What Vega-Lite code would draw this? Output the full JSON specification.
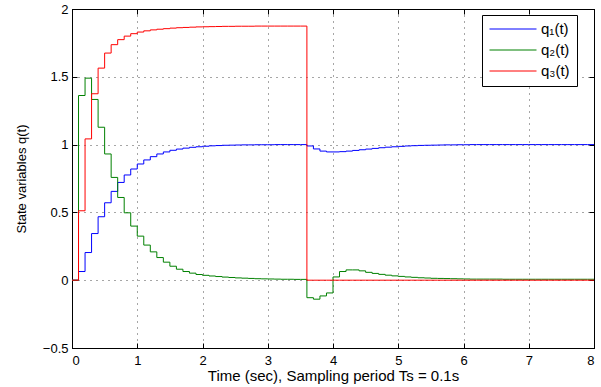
{
  "$schema": "https://vega.github.io/schema/vega-lite/v6.json",
  "width": 522,
  "height": 339,
  "autosize": {"type": "none"},
  "padding": {"left": 72, "top": 9, "right": 7, "bottom": 39},
  "background": "white",
  "config": {
    "font": "Liberation Sans",
    "view": {"stroke": "black", "strokeWidth": 1},
    "axis": {
      "domainColor": "black",
      "tickColor": "black",
      "labelColor": "black",
      "titleColor": "black",
      "labelFont": "Liberation Sans",
      "titleFont": "Liberation Sans",
      "titleFontWeight": "normal",
      "labelFontSize": 13,
      "gridColor": "black",
      "gridOpacity": 0.7,
      "gridDash": [1, 5],
      "gridWidth": 1,
      "tickSize": -5
    }
  },
  "data": {
    "values": [
      {"t": 0.0, "q1": 0, "q2": 0, "q3": 0},
      {"t": 0.1, "q1": 0.064, "q2": 1.362, "q3": 0.512},
      {"t": 0.2, "q1": 0.204, "q2": 1.49, "q3": 1.042},
      {"t": 0.3, "q1": 0.344, "q2": 1.333, "q3": 1.375},
      {"t": 0.4, "q1": 0.468, "q2": 1.128, "q3": 1.564},
      {"t": 0.5, "q1": 0.571, "q2": 0.931, "q3": 1.675},
      {"t": 0.6, "q1": 0.655, "q2": 0.758, "q3": 1.737},
      {"t": 0.7, "q1": 0.721, "q2": 0.61, "q3": 1.774},
      {"t": 0.8, "q1": 0.776, "q2": 0.497, "q3": 1.8},
      {"t": 0.9, "q1": 0.82, "q2": 0.399, "q3": 1.818},
      {"t": 1.0, "q1": 0.857, "q2": 0.325, "q3": 1.83},
      {"t": 1.1, "q1": 0.887, "q2": 0.259, "q3": 1.839},
      {"t": 1.2, "q1": 0.911, "q2": 0.209, "q3": 1.846},
      {"t": 1.3, "q1": 0.931, "q2": 0.167, "q3": 1.851},
      {"t": 1.4, "q1": 0.946, "q2": 0.133, "q3": 1.855},
      {"t": 1.5, "q1": 0.958, "q2": 0.103, "q3": 1.859},
      {"t": 1.6, "q1": 0.967, "q2": 0.081, "q3": 1.862},
      {"t": 1.7, "q1": 0.974, "q2": 0.064, "q3": 1.864},
      {"t": 1.8, "q1": 0.98, "q2": 0.052, "q3": 1.866},
      {"t": 1.9, "q1": 0.984, "q2": 0.042, "q3": 1.868},
      {"t": 2.0, "q1": 0.988, "q2": 0.036, "q3": 1.869},
      {"t": 2.1, "q1": 0.991, "q2": 0.031, "q3": 1.87},
      {"t": 2.2, "q1": 0.993, "q2": 0.027, "q3": 1.871},
      {"t": 2.3, "q1": 0.995, "q2": 0.023, "q3": 1.872},
      {"t": 2.4, "q1": 0.996, "q2": 0.02, "q3": 1.872},
      {"t": 2.5, "q1": 0.997, "q2": 0.017, "q3": 1.873},
      {"t": 2.6, "q1": 0.998, "q2": 0.015, "q3": 1.873},
      {"t": 2.7, "q1": 0.998, "q2": 0.013, "q3": 1.873},
      {"t": 2.8, "q1": 0.999, "q2": 0.011, "q3": 1.874},
      {"t": 2.9, "q1": 0.999, "q2": 0.01, "q3": 1.874},
      {"t": 3.0, "q1": 0.999, "q2": 0.009, "q3": 1.874},
      {"t": 3.1, "q1": 1.0, "q2": 0.008, "q3": 1.874},
      {"t": 3.2, "q1": 1.0, "q2": 0.007, "q3": 1.874},
      {"t": 3.3, "q1": 1.0, "q2": 0.007, "q3": 1.874},
      {"t": 3.4, "q1": 1.0, "q2": 0.006, "q3": 1.874},
      {"t": 3.5, "q1": 1.0, "q2": 0.006, "q3": 1.874},
      {"t": 3.6, "q1": 0.99, "q2": -0.129, "q3": 0},
      {"t": 3.7, "q1": 0.968, "q2": -0.14, "q3": 0},
      {"t": 3.8, "q1": 0.952, "q2": -0.116, "q3": 0},
      {"t": 3.9, "q1": 0.946, "q2": -0.094, "q3": 0},
      {"t": 4.0, "q1": 0.946, "q2": 0.024, "q3": 0},
      {"t": 4.1, "q1": 0.948, "q2": 0.064, "q3": 0},
      {"t": 4.2, "q1": 0.952, "q2": 0.076, "q3": 0},
      {"t": 4.3, "q1": 0.957, "q2": 0.076, "q3": 0},
      {"t": 4.4, "q1": 0.962, "q2": 0.069, "q3": 0},
      {"t": 4.5, "q1": 0.967, "q2": 0.058, "q3": 0},
      {"t": 4.6, "q1": 0.972, "q2": 0.05, "q3": 0},
      {"t": 4.7, "q1": 0.977, "q2": 0.043, "q3": 0},
      {"t": 4.8, "q1": 0.981, "q2": 0.037, "q3": 0},
      {"t": 4.9, "q1": 0.984, "q2": 0.032, "q3": 0},
      {"t": 5.0, "q1": 0.987, "q2": 0.028, "q3": 0},
      {"t": 5.1, "q1": 0.99, "q2": 0.024, "q3": 0},
      {"t": 5.2, "q1": 0.992, "q2": 0.021, "q3": 0},
      {"t": 5.3, "q1": 0.994, "q2": 0.018, "q3": 0},
      {"t": 5.4, "q1": 0.995, "q2": 0.016, "q3": 0},
      {"t": 5.5, "q1": 0.996, "q2": 0.014, "q3": 0},
      {"t": 5.6, "q1": 0.997, "q2": 0.013, "q3": 0},
      {"t": 5.7, "q1": 0.998, "q2": 0.012, "q3": 0},
      {"t": 5.8, "q1": 0.998, "q2": 0.011, "q3": 0},
      {"t": 5.9, "q1": 0.999, "q2": 0.01, "q3": 0},
      {"t": 6.0, "q1": 0.999, "q2": 0.009, "q3": 0},
      {"t": 6.1, "q1": 1.0, "q2": 0.008, "q3": 0},
      {"t": 6.2, "q1": 1.0, "q2": 0.008, "q3": 0},
      {"t": 6.3, "q1": 1.0, "q2": 0.008, "q3": 0},
      {"t": 6.4, "q1": 1.0, "q2": 0.008, "q3": 0},
      {"t": 6.5, "q1": 1.0, "q2": 0.008, "q3": 0},
      {"t": 6.6, "q1": 1.0, "q2": 0.007, "q3": 0},
      {"t": 6.7, "q1": 1.0, "q2": 0.007, "q3": 0},
      {"t": 6.8, "q1": 1.0, "q2": 0.007, "q3": 0},
      {"t": 6.9, "q1": 1.0, "q2": 0.007, "q3": 0},
      {"t": 7.0, "q1": 1.0, "q2": 0.007, "q3": 0},
      {"t": 7.1, "q1": 1.0, "q2": 0.007, "q3": 0},
      {"t": 7.2, "q1": 1.0, "q2": 0.007, "q3": 0},
      {"t": 7.3, "q1": 1.0, "q2": 0.007, "q3": 0},
      {"t": 7.4, "q1": 1.0, "q2": 0.007, "q3": 0},
      {"t": 7.5, "q1": 1.0, "q2": 0.007, "q3": 0},
      {"t": 7.6, "q1": 1.0, "q2": 0.007, "q3": 0},
      {"t": 7.7, "q1": 1.0, "q2": 0.007, "q3": 0},
      {"t": 7.8, "q1": 1.0, "q2": 0.007, "q3": 0},
      {"t": 7.9, "q1": 1.0, "q2": 0.007, "q3": 0},
      {"t": 8.0, "q1": 1.0, "q2": 0.007, "q3": 0}
    ]
  },
  "transform": [{"fold": ["q1", "q2", "q3"], "as": ["series", "value"]}],
  "layer": [
    {
      "mark": {"type": "line", "interpolate": "step-after", "strokeWidth": 1},
      "encoding": {
        "x": {
          "field": "t", "type": "quantitative",
          "scale": {"domain": [0, 8], "nice": false, "zero": false},
          "axis": {
            "orient": "bottom",
            "values": [0, 1, 2, 3, 4, 5, 6, 7, 8],
            "grid": true,
            "labelPadding": 11,
            "title": "Time (sec), Sampling period Ts = 0.1s",
            "titleFontSize": 15,
            "titlePadding": 1
          }
        },
        "y": {
          "field": "value", "type": "quantitative",
          "scale": {"domain": [-0.5, 2], "nice": false, "zero": false},
          "axis": {
            "orient": "left",
            "values": [-0.5, 0, 0.5, 1, 1.5, 2],
            "format": "~g",
            "grid": true,
            "labelPadding": 9,
            "title": "State variables q(t)",
            "titleFontSize": 13,
            "titlePadding": 14
          }
        },
        "color": {
          "field": "series", "type": "nominal",
          "scale": {"domain": ["q1", "q2", "q3"], "range": ["#0000ff", "#008000", "#ff0000"]},
          "legend": {
            "orient": "none",
            "legendX": 410,
            "legendY": 6,
            "title": null,
            "symbolType": "stroke",
            "symbolSize": 2209,
            "symbolStrokeWidth": 1,
            "labelFontSize": 15,
            "labelColor": "black",
            "labelOffset": 4,
            "labelExpr": "datum.label == 'q1' ? 'q₁(t)' : datum.label == 'q2' ? 'q₂(t)' : 'q₃(t)'",
            "strokeColor": "black",
            "fillColor": "white",
            "padding": 7,
            "clipHeight": 14,
            "rowPadding": 6
          }
        }
      }
    },
    {
      "mark": {"type": "point", "opacity": 0},
      "encoding": {
        "x": {
          "field": "t", "type": "quantitative",
          "axis": {"orient": "top", "values": [0, 1, 2, 3, 4, 5, 6, 7, 8], "labels": false, "grid": false, "title": null}
        },
        "y": {
          "field": "value", "type": "quantitative",
          "axis": {"orient": "right", "values": [-0.5, 0, 0.5, 1, 1.5, 2], "labels": false, "grid": false, "title": null}
        }
      }
    }
  ],
  "resolve": {"axis": {"x": "independent", "y": "independent"}}
}
